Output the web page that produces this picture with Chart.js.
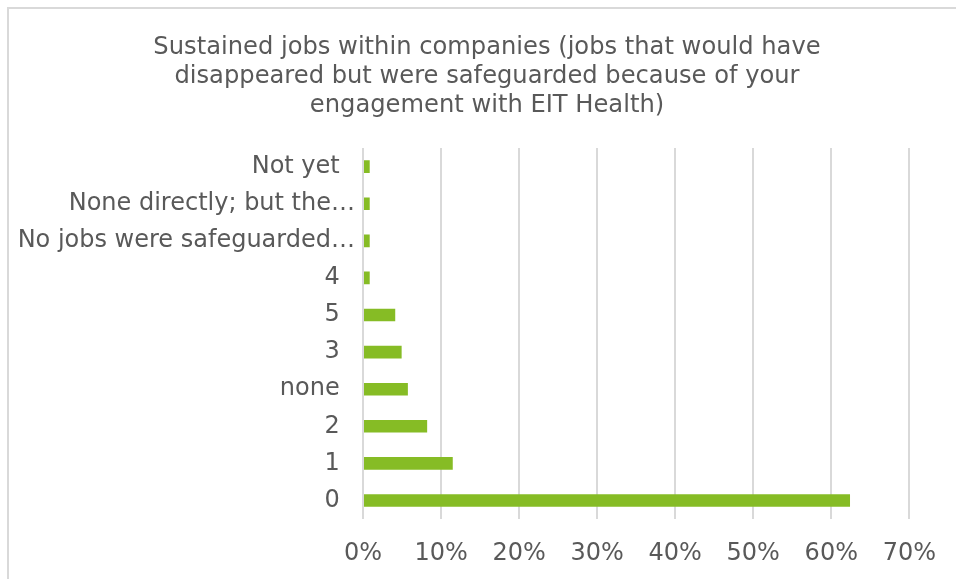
<!DOCTYPE html>
<html>
<head>
<meta charset="utf-8">
<title>Sustained jobs</title>
<script src="https://cdn.jsdelivr.net/npm/chart.js@4/dist/chart.umd.min.js"></script>
<style>
  html, body { margin: 0; background: #fff; overflow: hidden; }
  canvas { display: block; }
</style>
</head>
<body>
<canvas id="jobsChart" width="956" height="579"></canvas>
<script>
// answers (top to bottom) and share of respondents, %
const categories = [
  'Not yet',
  'None directly; but the…',
  'No jobs were safeguarded…',
  '4',
  '5',
  '3',
  'none',
  '2',
  '1',
  '0'
];
const shares = [0.86, 0.86, 0.86, 0.86, 4.13, 4.95, 5.75, 8.22, 11.5, 62.4];
const xTicks = [0, 10, 20, 30, 40, 50, 60, 70];

const titleLines = [
  'Sustained jobs within companies (jobs that would have',
  'disappeared but were safeguarded because of your',
  'engagement with EIT Health)'
];

const textColor = '#595959';
const gridColor = '#d9d9d9';
const barColor = '#86bc25';

Chart.defaults.font.family = 'Verdana, "DejaVu Sans", sans-serif';
Chart.defaults.color = textColor;

// light frame, only the top and left edges fall inside the canvas
const frame = {
  id: 'frame',
  beforeDraw(chart) {
    const c = chart.ctx;
    c.save();
    c.strokeStyle = gridColor;
    c.lineWidth = 2;
    c.beginPath();
    c.moveTo(8, chart.height);
    c.lineTo(8, 8);
    c.lineTo(chart.width, 8);
    c.stroke();
    c.restore();
  }
};

// center the title over the whole frame, not just the padded box
const titleSpan = {
  id: 'titleSpan',
  afterLayout(chart) {
    if (chart.titleBlock) {
      chart.titleBlock.left = 7;
      chart.titleBlock.right = 967;
    }
  }
};

const ctx = document.getElementById('jobsChart').getContext('2d');

new Chart(ctx, {
  type: 'bar',
  data: {
    labels: categories,
    datasets: [{
      data: shares,
      backgroundColor: barColor,
      borderWidth: 0,
      barPercentage: 0.34,
      categoryPercentage: 1
    }]
  },
  options: {
    indexAxis: 'y',
    responsive: false,
    animation: false,
    layout: {
      padding: { left: 10, right: 46, top: 0, bottom: 0 }
    },
    plugins: {
      legend: { display: false },
      tooltip: { enabled: false },
      title: {
        display: true,
        text: titleLines,
        color: textColor,
        font: { size: 24.2, weight: 'normal', lineHeight: 1.2 },
        padding: { top: 33, bottom: 28 }
      }
    },
    scales: {
      x: {
        min: 0,
        max: 70,
        afterBuildTicks: (scale) => {
          scale.ticks = xTicks.map(v => ({ value: v }));
        },
        afterFit: (scale) => { scale.height = 60; },
        ticks: {
          callback: v => v + '%',
          color: textColor,
          font: { size: 24, lineHeight: 1.2 },
          padding: 20,
          maxRotation: 0
        },
        grid: {
          color: gridColor,
          lineWidth: 2,
          drawTicks: false
        },
        border: { display: false }
      },
      y: {
        afterFit: (scale) => { scale.width = 353; },
        ticks: {
          // shortened answers sit a little closer to the axis
          callback: function (v) {
            const label = this.getLabelForValue(v);
            return label.endsWith('…') ? label : label + '  ';
          },
          color: textColor,
          font: { size: 24, lineHeight: 1.2 },
          padding: 8,
          autoSkip: false
        },
        grid: { display: false, drawTicks: false },
        border: { display: false }
      }
    }
  },
  plugins: [frame, titleSpan]
});
</script>
</body>
</html>
